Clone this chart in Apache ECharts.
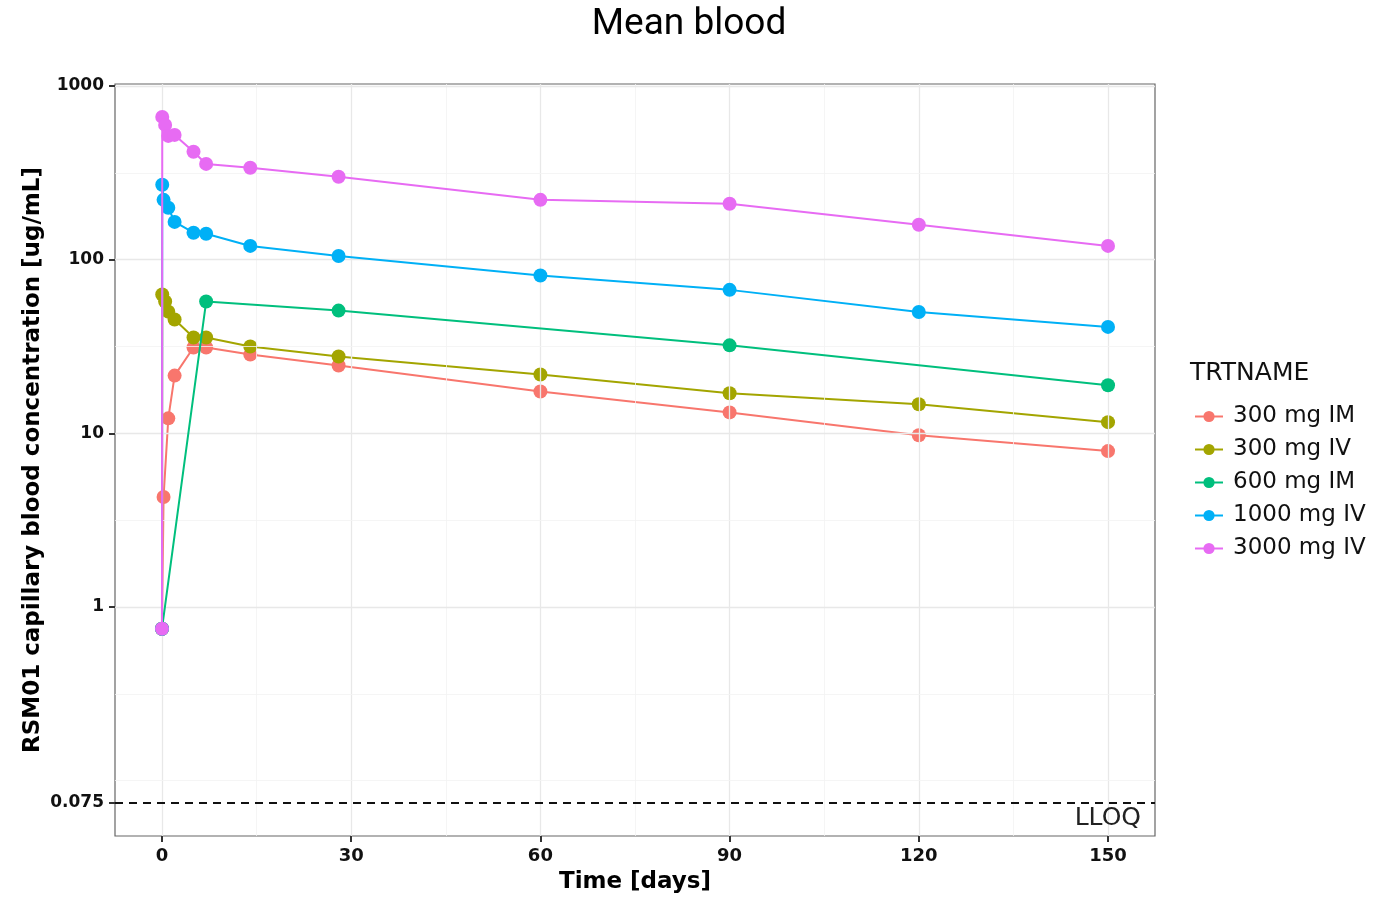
<!DOCTYPE html>
<html>
<head>
<meta charset="utf-8">
<script src="https://cdn.jsdelivr.net/npm/echarts@6/dist/echarts.min.js"></script>
<style>
  html, body { margin: 0; padding: 0; background: #fff; }
  #chart { width: 1378px; height: 901px; }
</style>
</head>
<body>
<div id="chart"></div>
<script>
// ---- data ----
const days = [0, 0.04, 0.25, 0.5, 1, 2, 5, 7, 14, 28, 60, 90, 120, 150]
const groups = ['300 mg IM', '300 mg IV', '600 mg IM', '1000 mg IV', '3000 mg IV']
const im300 = [0.75, null, 4.3, null, 12.2, 21.5, 31.2, 31.2, 28.4, 24.6, 17.4, 13.2, 9.75, 7.9]
const iv300 = [0.75, 63, null, 57.4, 50.2, 45.2, 35.6, 35.6, 31.6, 27.7, 21.8, 17.0, 14.7, 11.6]
const im600 = [0.75, null, null, null, null, null, null, 57.4, null, 50.9, null, 32.1, null, 18.9]
const iv1000 = [0.75, 270, 221, null, 199, 165, 143, 141, 120, 105, 81, 67, 50, 41]
const iv3000 = [0.75, 664, null, 597, 516, 523, 418, 356, 338, 300, 221, 210, 159, 120]
const colors = ['#F8766D', '#A3A500', '#00BF7D', '#00B0F6', '#E76BF3']

const xTicks = [0, 30, 60, 90, 120, 150]
const xMinor = [15, 45, 75, 105, 135]
const yTicks = [0.075, 1, 10, 100, 1000]
const yMajorGrid = [1, 10, 100, 1000]
const yMinorGrid = [0.1, 0.3162, 3.162, 31.62, 316.2]
const lloq = 0.075

let myChart = echarts.init(document.getElementById('chart'))

const axisFont = '"DejaVu Sans", sans-serif'
const allValues = [im300, iv300, im600, iv1000, iv3000]

function toPairs(vals) {
  let out = []
  vals.forEach((v, i) => { if (v != null) out.push([days[i], v]) })
  return out
}

let series = groups.map((g, k) => ({
  name: g,
  type: 'line',
  z: 3 + k,
  data: toPairs(allValues[k]),
  symbol: 'circle',
  symbolSize: 14,
  color: colors[k],
  lineStyle: { width: 2 },
  emphasis: { disabled: true }
}))

// background grid lines (ggplot style) + LLOQ line
const majorLine = { color: '#e8e8e8', width: 1.3, type: 'solid' }
const minorLine = { color: '#f3f3f3', width: 0.8, type: 'solid' }
series.unshift({
  type: 'line',
  data: [],
  z: 1,
  silent: true,
  markLine: {
    silent: true,
    symbol: 'none',
    precision: 5,
    animation: false,
    label: { show: false },
    data: [
      ...xTicks.map(v => ({ xAxis: v, lineStyle: majorLine })),
      ...xMinor.map(v => ({ xAxis: v, lineStyle: minorLine })),
      ...yMajorGrid.map(v => ({ yAxis: v, lineStyle: majorLine })),
      ...yMinorGrid.map(v => ({ yAxis: v, lineStyle: minorLine }))
    ]
  }
})
series.push({
  type: 'line',
  data: [],
  z: 10,
  silent: true,
  markLine: {
    silent: true,
    symbol: 'none',
    precision: 5,
    animation: false,
    lineStyle: { color: '#111', width: 1.8, type: [8, 6] },
    label: {
      show: true,
      position: 'insideEndBottom',
      formatter: 'LLOQ',
      fontFamily: axisFont,
      fontSize: 25,
      color: '#222',
      distance: [14, 4]
    },
    data: [{ yAxis: lloq }]
  }
})

let option = {
  animation: false,
  title: [
    {
      text: 'Mean blood',
      left: 'center',
      top: 1,
      textStyle: { fontFamily: 'Roboto, sans-serif', fontSize: 37, fontWeight: 'normal', color: '#000' }
    },
    {
      text: 'TRTNAME',
      left: 1185,
      top: 356,
      textStyle: { fontFamily: axisFont, fontSize: 25, fontWeight: 'normal', color: '#111' }
    }
  ],
  legend: {
    data: groups,
    orient: 'vertical',
    left: 1189,
    top: 400,
    itemWidth: 28,
    itemHeight: 14,
    itemGap: 10,
    textStyle: { fontFamily: axisFont, fontSize: 23, color: '#111', padding: [0, 0, 0, 5] }
  },
  grid: {
    left: 115,
    right: 223,
    top: 84,
    bottom: 65,
    show: true,
    borderColor: '#666',
    borderWidth: 1.2,
    backgroundColor: '#fff'
  },
  xAxis: {
    type: 'value',
    min: -7.45,
    max: 157.45,
    name: 'Time [days]',
    nameLocation: 'middle',
    nameGap: 35,
    nameMoveOverlap: false,
    nameTextStyle: { fontFamily: axisFont, fontSize: 23, fontWeight: 'bold', color: '#000' },
    axisLine: { show: false, onZero: false },
    axisTick: { show: true, length: 6, customValues: xTicks, lineStyle: { color: '#333', width: 2 } },
    axisLabel: { customValues: xTicks, margin: 11, fontFamily: axisFont, fontSize: 18, fontWeight: 'bold', color: '#111' },
    splitLine: { show: false }
  },
  yAxis: {
    type: 'log',
    logBase: 10,
    min: 0.048,
    max: 1027,
    name: 'RSM01 capillary blood concentration [ug/mL]',
    nameLocation: 'middle',
    nameGap: 70,
    nameMoveOverlap: false,
    nameTextStyle: { fontFamily: axisFont, fontSize: 23, fontWeight: 'bold', color: '#000' },
    axisLine: { show: false, onZero: false },
    axisTick: { show: true, length: 6, customValues: yTicks, lineStyle: { color: '#333', width: 2 } },
    axisLabel: {
      customValues: yTicks,
      margin: 11,
      fontFamily: axisFont,
      fontSize: 17,
      fontWeight: 'bold',
      color: '#111',
      formatter: v => String(Math.round(v * 1000) / 1000)
    },
    splitLine: { show: false },
    minorSplitLine: { show: false }
  },
  series: series
}

myChart.setOption(option)
</script>
</body>
</html>
